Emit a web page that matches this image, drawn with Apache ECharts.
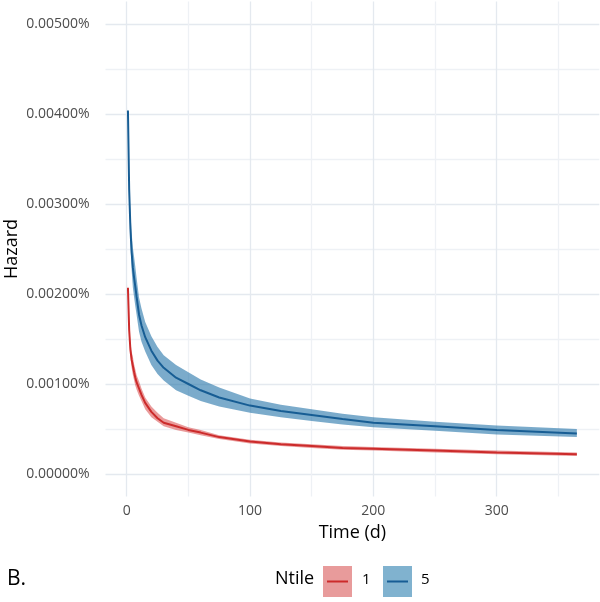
<!DOCTYPE html>
<html>
<head>
<meta charset="utf-8">
<title>Hazard by Ntile</title>
<script src="https://cdn.jsdelivr.net/npm/echarts@6/dist/echarts.min.js"></script>
<style>
  html, body { margin: 0; padding: 0; background: #fff; }
  #chart { width: 600px; height: 602px; }
</style>
</head>
<body>
<div id="chart"></div>
<script>
// time in days
const days = [1, 2, 3, 4, 5, 6, 7, 8, 10, 12, 15, 20, 25, 30, 40, 50, 60, 75, 100, 125, 150, 175, 200, 250, 300, 365];

// hazard, in percent (0.004 => 0.004%)
const ntile1Hazard = [0.00207, 0.00160, 0.00138, 0.00127, 0.00120, 0.00113, 0.00107, 0.00102, 0.00095, 0.00088, 0.00079, 0.00069, 0.00062, 0.00057, 0.00053, 0.00049, 0.00046, 0.00041, 0.00036, 0.00033, 0.00031, 0.00029, 0.00028, 0.00026, 0.00024, 0.00022];
const ntile1Lower  = [0.00203, 0.00153, 0.00130, 0.00118, 0.00110, 0.00104, 0.00098, 0.00094, 0.00087, 0.00081, 0.00072, 0.00063, 0.00058, 0.00053, 0.00049, 0.00046, 0.00043, 0.00039, 0.00034, 0.00031, 0.00029, 0.00027, 0.00026, 0.00024, 0.00022, 0.00020];
const ntile1Upper  = [0.00211, 0.00167, 0.00146, 0.00136, 0.00130, 0.00122, 0.00116, 0.00110, 0.00103, 0.00095, 0.00085, 0.00075, 0.00068, 0.00062, 0.00057, 0.00052, 0.00049, 0.00043, 0.00038, 0.00035, 0.00033, 0.00031, 0.00030, 0.00028, 0.00026, 0.00024];

const ntile5Hazard = [0.00404, 0.00316, 0.00273, 0.00246, 0.00229, 0.00218, 0.00208, 0.00197, 0.00177, 0.00165, 0.00152, 0.00137, 0.00126, 0.00118, 0.00107, 0.00100, 0.00093, 0.00085, 0.00076, 0.00070, 0.000655, 0.00061, 0.00057, 0.00053, 0.00049, 0.00045];
const ntile5Lower  = [0.00400, 0.00308, 0.00258, 0.00226, 0.00207, 0.00196, 0.00186, 0.00177, 0.00158, 0.00147, 0.00136, 0.00121, 0.00111, 0.00104, 0.00093, 0.00087, 0.00081, 0.00075, 0.00068, 0.00063, 0.00059, 0.00055, 0.00052, 0.00048, 0.00044, 0.00041];
const ntile5Upper  = [0.00408, 0.00324, 0.00290, 0.00268, 0.00251, 0.00241, 0.00230, 0.00218, 0.00196, 0.00184, 0.00169, 0.00153, 0.00141, 0.00132, 0.00121, 0.00113, 0.00105, 0.00096, 0.00084, 0.00077, 0.00072, 0.00067, 0.00063, 0.00058, 0.00054, 0.00050];

// axis ticks
const xLabelTicks = [0, 100, 200, 300];
const xGridTicks = [0, 50, 100, 150, 200, 250, 300, 350];
const yLabelTicks = [0, 0.001, 0.002, 0.003, 0.004, 0.005];
const yGridTicks = [0, 0.0005, 0.001, 0.0015, 0.002, 0.0025, 0.003, 0.0035, 0.004, 0.0045, 0.005];

const legendNames = ['1', '5'];

const RED_LINE = '#cc2b2b';
const RED_BAND = 'rgba(214,56,56,0.5)';
const RED_KEY = '#e89b9b';
const BLUE_LINE = '#175d94';
const BLUE_BAND = 'rgba(28,110,165,0.58)';
const BLUE_KEY = '#80b2cf';
const GRID_MAJOR = '#e4e9ef';
const GRID_MINOR = '#eef1f5';
const FONT = '"Open Sans", "Noto Sans", sans-serif';

const pairs = (vals) => days.map((d, i) => [d, vals[i]]);

// ribbon drawn as one polygon: along the upper bound, back along the lower bound
const band = (lo, hi, color) => ({
  type: 'custom',
  silent: true,
  data: [[days[0], lo[0]]],
  renderItem: (params, api) => {
    const top = days.map((d, i) => api.coord([d, hi[i]]));
    const bottom = days.map((d, i) => api.coord([d, lo[i]])).reverse();
    return {
      type: 'polygon',
      shape: { points: top.concat(bottom) },
      style: { fill: color }
    };
  }
});

const line = (name, vals, color) => ({
  name: name, type: 'line', data: pairs(vals), showSymbol: false, silent: true,
  lineStyle: { color: color, width: 2 }
});

const chart = echarts.init(document.getElementById('chart'), null, { renderer: 'canvas' });

const option = {
  animation: false,
  backgroundColor: '#ffffff',
  textStyle: { fontFamily: FONT },
  grid: { left: 105.5, right: 0.7, top: 1.5, bottom: 105.5, containLabel: false, outerBoundsMode: 'none' },
  xAxis: {
    type: 'value',
    min: -17.2,
    max: 383.2,
    name: 'Time (d)',
    nameLocation: 'middle',
    nameGap: 24,
    nameTextStyle: { color: '#000', fontSize: 18, fontFamily: FONT },
    axisLine: { show: false },
    axisTick: { show: false, customValues: xGridTicks },
    axisLabel: { customValues: xLabelTicks, color: '#4d4d4d', fontSize: 14, margin: 8, fontFamily: FONT },
    splitLine: { show: true, lineStyle: { color: [GRID_MAJOR, GRID_MINOR], width: 1.3 } }
  },
  yAxis: {
    type: 'value',
    min: -0.00025,
    max: 0.00525,
    name: 'Hazard',
    nameLocation: 'middle',
    nameGap: 85,
    nameMoveOverlap: false,
    nameTextStyle: { color: '#000', fontSize: 18, fontFamily: FONT },
    axisLine: { show: false },
    axisTick: { show: false, customValues: yGridTicks },
    axisLabel: {
      customValues: yLabelTicks, color: '#4d4d4d', fontSize: 14, margin: 16, fontFamily: FONT,
      formatter: (v) => v.toFixed(5) + '%'
    },
    splitLine: { show: true, lineStyle: { color: [GRID_MAJOR, GRID_MINOR], width: 1.3 } }
  },
  series: [
    band(ntile1Lower, ntile1Upper, RED_BAND),
    band(ntile5Lower, ntile5Upper, BLUE_BAND),
    line(legendNames[0], ntile1Hazard, RED_LINE),
    line(legendNames[1], ntile5Hazard, BLUE_LINE)
  ],
  graphic: [
    { type: 'text', left: 7, top: 569, style: { text: 'B.', font: '21px ' + FONT, fill: '#000' } },
    { type: 'text', left: 275, top: 570, style: { text: 'Ntile', font: '18px ' + FONT, fill: '#000' } },
    { type: 'rect', shape: { x: 323, y: 566, width: 29, height: 31 }, style: { fill: RED_KEY } },
    { type: 'line', shape: { x1: 327, y1: 581.5, x2: 348, y2: 581.5 }, style: { stroke: RED_LINE, lineWidth: 2 } },
    { type: 'text', left: 362, top: 572, style: { text: legendNames[0], font: '15px ' + FONT, fill: '#000' } },
    { type: 'rect', shape: { x: 383, y: 566, width: 29, height: 31 }, style: { fill: BLUE_KEY } },
    { type: 'line', shape: { x1: 387, y1: 581.5, x2: 408, y2: 581.5 }, style: { stroke: BLUE_LINE, lineWidth: 2 } },
    { type: 'text', left: 421, top: 572, style: { text: legendNames[1], font: '15px ' + FONT, fill: '#000' } }
  ]
};

chart.setOption(option);
</script>
</body>
</html>
